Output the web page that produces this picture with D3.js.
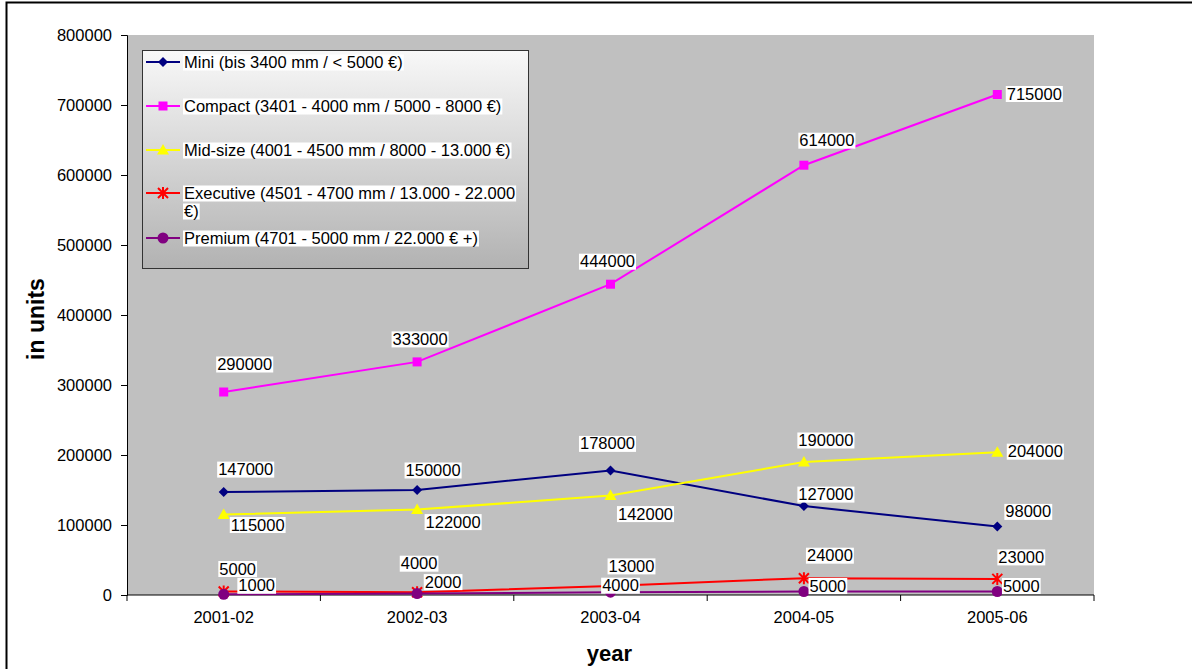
<!DOCTYPE html>
<html>
<head>
<meta charset="utf-8">
<script src="https://cdn.jsdelivr.net/npm/d3@7"></script>
<style>
  html, body { margin: 0; padding: 0; background: #fff; }
  svg { display: block; font-family: "Liberation Sans", Arial, sans-serif; }
</style>
</head>
<body>
<svg id="chart" width="1192" height="669"></svg>
<script>
// Car sales by size class, units per year
const years = ["2001-02", "2002-03", "2003-04", "2004-05", "2005-06"];
const seriesNames = [
  "Mini (bis 3400 mm / < 5000 €)",
  "Compact (3401 - 4000 mm / 5000 - 8000 €)",
  "Mid-size (4001 - 4500 mm / 8000 - 13.000 €)",
  "Executive (4501 - 4700 mm / 13.000 - 22.000 €)",
  "Premium (4701 - 5000 mm / 22.000 € +)"
];
const mini      = [147000, 150000, 178000, 127000, 98000];
const compact   = [290000, 333000, 444000, 614000, 715000];
const midSize   = [115000, 122000, 142000, 190000, 204000];
const executive = [5000, 4000, 13000, 24000, 23000];
const premium   = [1000, 2000, 4000, 5000, 5000];
const yTicks = [0, 100000, 200000, 300000, 400000, 500000, 600000, 700000, 800000];

// Styling per series
const colors  = ["#000080", "#ff00ff", "#ffff00", "#ff0000", "#800080"];
const markers = ["diamond", "square", "triangle", "asterisk", "circle"];
// Data-label offsets (label centre relative to its point)
const labelOffsets = [
  [[22, -23], [16, -20], [-3, -27], [22, -12], [31, -15]],
  [[21, -28], [3, -23], [-3, -23], [23, -25], [37, -1]],
  [[34, 10], [36, 12], [35, 18], [22, -22], [38, -1]],
  [[14, -23], [2, -29], [21, -20], [26, -23], [24, -22]],
  [[33, -9], [26, -12], [10, -7], [24, -6], [24, -6]]
];

const allSeries = [mini, compact, midSize, executive, premium].map((vals, i) => ({
  name: seriesNames[i], values: vals, color: colors[i], marker: markers[i], offsets: labelOffsets[i]
}));

const FONT = 16.5;
const svg = d3.select("#chart");

// Outer chart frame
svg.append("rect").attr("x", 6.5).attr("y", 2.5).attr("width", 1200).attr("height", 700)
  .attr("fill", "#fff").attr("stroke", "#000").attr("stroke-width", 2);

const plot = { left: 127, top: 35, right: 1094, bottom: 595 };

const x = d3.scaleBand().domain(years).range([plot.left, plot.right]).paddingInner(0).paddingOuter(0);
const y = d3.scaleLinear().domain([0, 800000]).range([plot.bottom, plot.top]);

// Plot background
svg.append("rect").attr("x", plot.left).attr("y", plot.top)
  .attr("width", plot.right - plot.left).attr("height", plot.bottom - plot.top)
  .attr("fill", "#c0c0c0");

// Y axis
const yAxis = svg.append("g").attr("transform", `translate(${plot.left},0)`)
  .call(d3.axisLeft(y).tickValues(yTicks).tickFormat(d3.format("d")).tickSize(6).tickPadding(9));
yAxis.select(".domain").attr("stroke", "#000");
yAxis.selectAll("text").attr("font-size", FONT).attr("fill", "#000").attr("font-family", "Liberation Sans, Arial, sans-serif");

// X axis: ticks sit on category boundaries
const xAxis = svg.append("g").attr("transform", `translate(0,${plot.bottom})`);
xAxis.append("line").attr("x1", plot.left).attr("x2", plot.right).attr("stroke", "#000");
const boundaries = years.map(d => x(d)).concat([x(years[years.length - 1]) + x.bandwidth()]);
xAxis.selectAll("line.tick").data(boundaries).join("line")
  .attr("class", "tick").attr("x1", d => d).attr("x2", d => d).attr("y1", 0).attr("y2", 6).attr("stroke", "#000");
xAxis.selectAll("text").data(years).join("text")
  .attr("x", d => x(d) + x.bandwidth() / 2).attr("y", 28)
  .attr("text-anchor", "middle").attr("font-size", FONT).attr("fill", "#000").text(d => d);

// Axis titles
svg.append("text").attr("transform", `translate(44,${(plot.top + plot.bottom) / 2 + 4}) rotate(-90)`)
  .attr("text-anchor", "middle").attr("font-size", 23).attr("font-weight", "bold").text("in units");
svg.append("text").attr("x", (plot.left + plot.right) / 2 - 1).attr("y", 661)
  .attr("text-anchor", "middle").attr("font-size", 22).attr("font-weight", "bold").text("year");

const cx = d => x(d) + x.bandwidth() / 2;

function drawMarker(g, type, color) {
  switch (type) {
    case "diamond":
      g.append("path").attr("d", "M0,-5L5,0L0,5L-5,0Z").attr("fill", color); break;
    case "square":
      g.append("rect").attr("x", -4.5).attr("y", -4.5).attr("width", 9).attr("height", 9).attr("fill", color); break;
    case "triangle":
      g.append("path").attr("d", "M0,-6L6,4.5L-6,4.5Z").attr("fill", color); break;
    case "asterisk":
      g.append("path").attr("d", "M-5,-5L5,5M5,-5L-5,5M0,-6L0,6").attr("stroke", color).attr("stroke-width", 2).attr("fill", "none"); break;
    case "circle":
      g.append("circle").attr("r", 5.5).attr("fill", color); break;
  }
}

const line = d3.line().x((d, i) => cx(years[i])).y(d => y(d));

// Lines
allSeries.forEach(s => {
  svg.append("path").datum(s.values).attr("d", line)
    .attr("fill", "none").attr("stroke", s.color).attr("stroke-width", 2);
});

// Markers
allSeries.forEach(s => {
  s.values.forEach((v, i) => {
    const g = svg.append("g").attr("transform", `translate(${cx(years[i])},${y(v)})`);
    drawMarker(g, s.marker, s.color);
  });
});

// Data labels with white boxes
function boxedText(parent, tx, ty, str, size, anchor) {
  const g = parent.append("g");
  const t = g.append("text").attr("x", tx).attr("y", ty).attr("font-size", size)
    .attr("text-anchor", anchor).attr("dominant-baseline", "central").attr("fill", "#000").text(str);
  const b = t.node().getBBox();
  g.insert("rect", "text").attr("x", b.x - 1).attr("y", b.y + 1.5).attr("width", b.width + 2).attr("height", b.height - 2)
    .attr("fill", "#fff");
  return g;
}
const labels = svg.append("g");
allSeries.forEach(s => {
  s.values.forEach((v, i) => {
    const [dx, dy] = s.offsets[i];
    boxedText(labels, cx(years[i]) + dx, y(v) + dy, String(v), FONT, "middle");
  });
});

// Legend
const defs = svg.append("defs");
const grad = defs.append("linearGradient").attr("id", "legendFill").attr("x1", 0).attr("y1", 0).attr("x2", 0).attr("y2", 1);
grad.append("stop").attr("offset", "0%").attr("stop-color", "#f8f8f8");
grad.append("stop").attr("offset", "100%").attr("stop-color", "#b2b2b2");

const legend = svg.append("g");
legend.append("rect").attr("x", 142.5).attr("y", 50.5).attr("width", 386).attr("height", 218)
  .attr("fill", "url(#legendFill)").attr("stroke", "#333").attr("stroke-width", 1);

const legendRows = [
  { lines: [seriesNames[0]], y: 62 },
  { lines: [seriesNames[1]], y: 106 },
  { lines: [seriesNames[2]], y: 150 },
  { lines: ["Executive (4501 - 4700 mm / 13.000 - 22.000", "€)"], y: 193 },
  { lines: [seriesNames[4]], y: 238 }
];
legendRows.forEach((row, i) => {
  const s = allSeries[i];
  legend.append("line").attr("x1", 146).attr("x2", 180).attr("y1", row.y).attr("y2", row.y)
    .attr("stroke", s.color).attr("stroke-width", 2);
  const g = legend.append("g").attr("transform", `translate(163,${row.y})`);
  drawMarker(g, s.marker, s.color);
  row.lines.forEach((ln, j) => {
    boxedText(legend, 184, row.y + j * 18, ln, FONT, "start");
  });
});
</script>
</body>
</html>
